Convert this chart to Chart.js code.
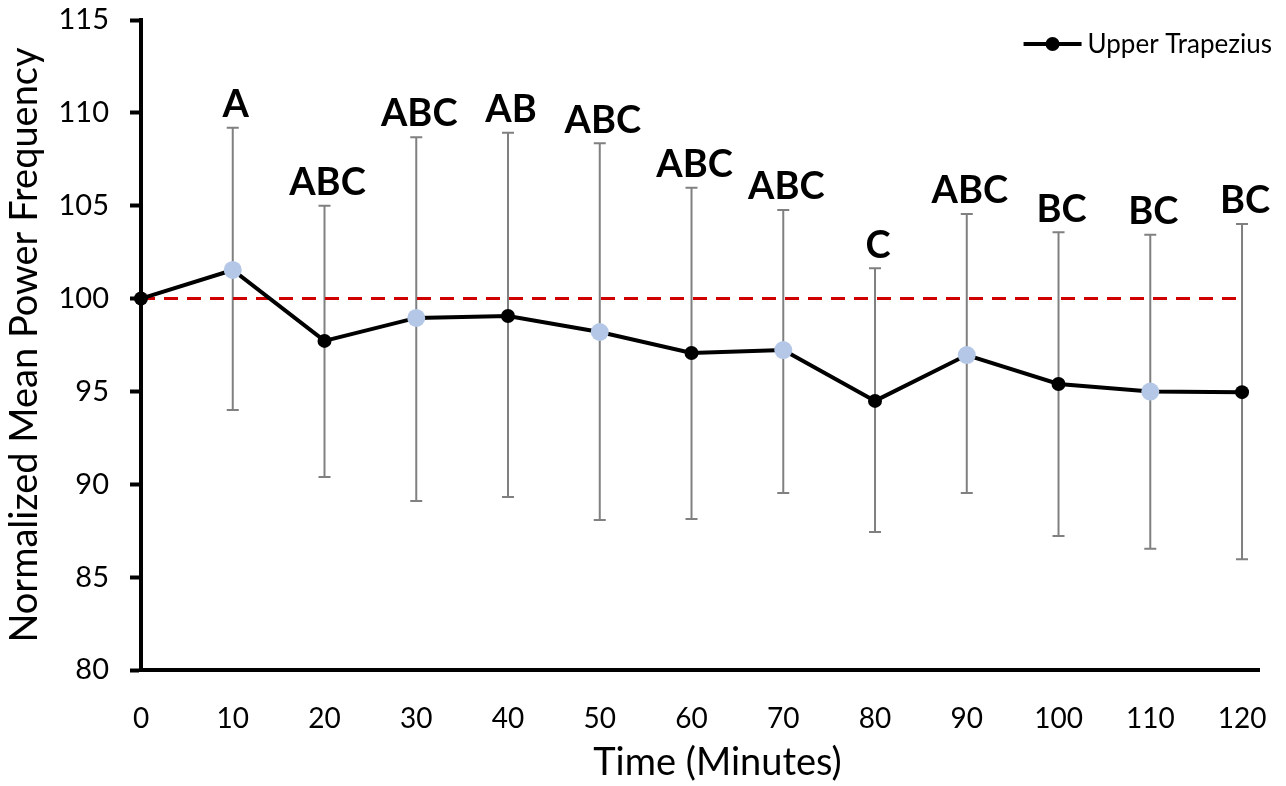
<!DOCTYPE html>
<html>
<head>
<meta charset="utf-8">
<script src="https://cdn.jsdelivr.net/npm/chart.js@4/dist/chart.umd.min.js"></script>
<style>
  html, body { margin: 0; padding: 0; background: #fff; }
  #wrap { width: 1286px; height: 786px; }
</style>
</head>
<body>
<div id="wrap"><canvas id="c" width="1286" height="786"></canvas></div>
<script>
const times = [0, 10, 20, 30, 40, 50, 60, 70, 80, 90, 100, 110, 120];
const meanValues = [100, 101.54, 97.72, 98.96, 99.06, 98.2, 97.07, 97.23, 94.49, 96.96, 95.4, 94.99, 94.96];
const upperValues = [null, 109.2, 105.0, 108.69, 108.93, 108.36, 105.97, 104.77, 101.63, 104.56, 103.57, 103.43, 104.02];
const lowerValues = [null, 94.0, 90.39, 89.1, 89.32, 88.08, 88.13, 89.53, 87.43, 89.53, 87.22, 86.53, 85.96];
const groupLabels = ['', 'A', 'ABC', 'ABC', 'AB', 'ABC', 'ABC', 'ABC', 'C', 'ABC', 'BC', 'BC', 'BC'];
const baselineValue = 100;
const yTicks = [80, 85, 90, 95, 100, 105, 110, 115];
const xTicks = [0, 10, 20, 30, 40, 50, 60, 70, 80, 90, 100, 110, 120];
const xAxisMax = 121.85;
const seriesName = 'Upper Trapezius';
const xTitle = 'Time (Minutes)';

const pointColors = times.map((t, i) => (i % 2 === 1 ? '#B4C7E7' : '#000000'));
const pointRadii = times.map((t, i) => (i % 2 === 1 ? 9 : 7));

const errorBarPlugin = {
  id: 'errorBars',
  beforeDatasetsDraw(chart) {
    const ctx = chart.ctx, xs = chart.scales.x, ys = chart.scales.y;
    ctx.save();
    ctx.strokeStyle = '#808080';
    ctx.lineWidth = 2;
    times.forEach((t, i) => {
      if (upperValues[i] == null) return;
      const px = xs.getPixelForValue(t);
      const pt = ys.getPixelForValue(upperValues[i]);
      const pb = ys.getPixelForValue(lowerValues[i]);
      ctx.beginPath();
      ctx.moveTo(px, pt); ctx.lineTo(px, pb);
      ctx.moveTo(px - 6, pt); ctx.lineTo(px + 6, pt);
      ctx.moveTo(px - 6, pb); ctx.lineTo(px + 6, pb);
      ctx.stroke();
    });
    ctx.restore();
  },
  afterDatasetsDraw(chart) {
    const ctx = chart.ctx, xs = chart.scales.x, ys = chart.scales.y;
    ctx.save();
    ctx.fillStyle = '#000';
    ctx.font = 'bold 38px Lato';
    ctx.textAlign = 'center';
    ctx.textBaseline = 'middle';
    times.forEach((t, i) => {
      if (!groupLabels[i]) return;
      const px = xs.getPixelForValue(t);
      const pt = ys.getPixelForValue(upperValues[i]);
      ctx.fillText(groupLabels[i], px + 3, pt - 23);
    });
    // x axis title
    ctx.font = '38px Lato';
    ctx.textBaseline = 'alphabetic';
    ctx.fillText(xTitle, (xs.getPixelForValue(0) + xs.getPixelForValue(120)) / 2 + 26, 775);
    // legend
    const W = chart.width;
    const textRight = W - 14;
    ctx.font = '26px Lato';
    ctx.textAlign = 'right';
    ctx.textBaseline = 'middle';
    ctx.fillText(seriesName, textRight, 45);
    const tw = ctx.measureText(seriesName).width;
    const lx2 = textRight - tw - 6;
    const lx1 = lx2 - 58;
    ctx.strokeStyle = '#000';
    ctx.lineWidth = 4;
    ctx.beginPath(); ctx.moveTo(lx1, 44); ctx.lineTo(lx2, 44); ctx.stroke();
    ctx.beginPath(); ctx.arc((lx1 + lx2) / 2, 44, 7, 0, Math.PI * 2); ctx.fill();
    ctx.restore();
  }
};

new Chart(document.getElementById('c'), {
  type: 'line',
  data: {
    datasets: [
      {
        label: seriesName,
        data: times.map((t, i) => ({ x: t, y: meanValues[i] })),
        borderColor: '#000',
        borderWidth: 4,
        pointBackgroundColor: pointColors,
        pointBorderColor: pointColors,
        pointBorderWidth: 0,
        pointRadius: pointRadii,
        tension: 0,
        clip: false,
        order: 1
      },
      {
        label: 'baseline',
        data: [{ x: times[0], y: baselineValue }, { x: times[times.length - 1], y: baselineValue }],
        borderColor: '#D00000',
        borderWidth: 3,
        borderDash: [14, 9],
        pointRadius: 0,
        order: 2
      }
    ]
  },
  options: {
    responsive: false,
    animation: false,
    events: [],
    layout: { padding: { left: 0, right: 27, top: 20, bottom: 0 } },
    plugins: { legend: { display: false }, tooltip: { enabled: false } },
    scales: {
      x: {
        type: 'linear',
        min: 0, max: xAxisMax,
        afterBuildTicks(scale) { scale.ticks = xTicks.map(v => ({ value: v })); },
        afterFit(scale) { scale.height = 116; scale.paddingLeft = 0; scale.paddingRight = 0; },
        grid: { display: false, drawOnChartArea: false },
        border: { display: true, color: '#000', width: 4 },
        ticks: { color: '#000', font: { family: 'Lato', size: 28 }, padding: 24, maxRotation: 0 },
        title: { display: false }
      },
      y: {
        min: 80, max: 115,
        afterBuildTicks(scale) { scale.ticks = yTicks.map(v => ({ value: v })); },
        afterFit(scale) { scale.width = 141; scale.paddingTop = 0; scale.paddingBottom = 0; },
        grid: { display: true, drawOnChartArea: false, drawTicks: true, tickLength: 11, tickColor: '#000', tickWidth: 4 },
        border: { display: true, color: '#000', width: 4 },
        ticks: { color: '#000', font: { family: 'Lato', size: 29 }, padding: 21 },
        title: { display: true, text: 'Normalized Mean Power Frequency', color: '#000', font: { family: 'Lato', size: 38 }, padding: { top: 2, bottom: 0 } }
      }
    }
  },
  plugins: [errorBarPlugin]
});
</script>
</body>
</html>
